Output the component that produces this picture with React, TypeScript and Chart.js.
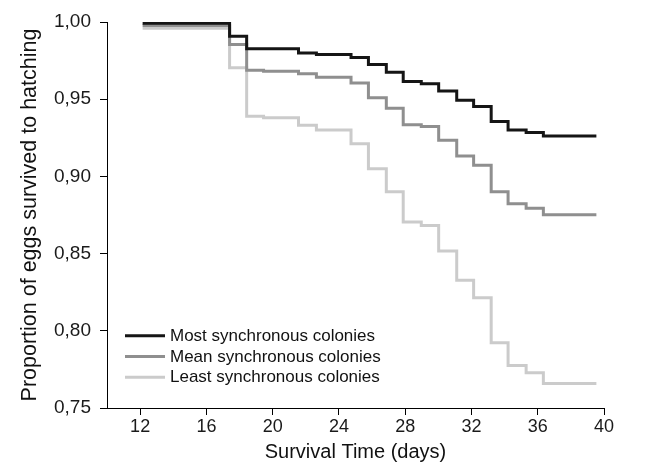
import React, { useEffect, useRef } from 'react';
import { Chart, registerables } from 'chart.js';

Chart.register(...registerables);

// Survival time (days) at which each step occurs
const days = [12.15, 17.4, 18.43, 19.45, 21.56, 22.64, 24.73, 25.78, 26.86, 27.88, 28.97, 30.02, 31.11, 32.13, 33.19, 34.21, 35.3, 36.34, 39.54];
const mostSync = [0.9992, 0.9908, 0.9826, 0.9826, 0.980, 0.979, 0.977, 0.9725, 0.9675, 0.9615, 0.960, 0.9553, 0.9494, 0.9453, 0.9356, 0.930, 0.9284, 0.9262, 0.9262];
const meanSync = [0.9977, 0.9854, 0.9688, 0.9681, 0.9665, 0.9642, 0.9605, 0.9509, 0.9441, 0.9334, 0.9323, 0.9234, 0.9132, 0.9073, 0.8901, 0.8823, 0.8794, 0.8751, 0.8751];
const leastSync = [0.996, 0.9703, 0.939, 0.938, 0.9332, 0.930, 0.9212, 0.9049, 0.890, 0.8705, 0.8682, 0.8517, 0.8328, 0.8214, 0.7922, 0.7775, 0.7728, 0.7659, 0.7659];
const seriesLabels = ['Most synchronous colonies', 'Mean synchronous colonies', 'Least synchronous colonies'];
const seriesColors = ['#151515', '#8f8f8f', '#cbcbcb'];
const xTicks = [12, 16, 20, 24, 28, 32, 36, 40];
const yTicks = [0.75, 0.8, 0.85, 0.9, 0.95, 1.0];

const FONT = '"Liberation Sans", Arial, Helvetica, sans-serif';

const toPoints = (vals: number[]) => vals.map((v, i) => ({ x: days[i], y: v }));

const legendPlugin = {
  id: 'insideLegend',
  afterDatasetsDraw(chart: any) {
    const { ctx, chartArea } = chart;
    const x0 = chartArea.left + 18;
    const x1 = x0 + 40;
    const yStart = chartArea.bottom - 72.3;
    chart.data.datasets.forEach((ds: any, i: number) => {
      const y = yStart + i * 20.8;
      ctx.save();
      ctx.strokeStyle = ds.borderColor;
      ctx.lineWidth = 3;
      ctx.beginPath();
      ctx.moveTo(x0, y);
      ctx.lineTo(x1, y);
      ctx.stroke();
      ctx.fillStyle = '#111';
      ctx.font = `17px ${FONT}`;
      ctx.textBaseline = 'middle';
      ctx.textAlign = 'left';
      ctx.fillText(ds.label, x1 + 5, y + 0.5);
      ctx.restore();
    });
  },
};

export default function App() {
  const canvasRef = useRef<HTMLCanvasElement | null>(null);

  useEffect(() => {
    if (!canvasRef.current) return;
    const series = [mostSync, meanSync, leastSync];
    const chart = new Chart(canvasRef.current, {
      type: 'line',
      data: {
        datasets: series.map((vals, i) => ({
          label: seriesLabels[i],
          data: toPoints(vals),
          borderColor: seriesColors[i],
          backgroundColor: seriesColors[i],
          borderWidth: 3,
          pointRadius: 0,
          stepped: 'before' as const,
          fill: false,
        })),
      },
      options: {
        animation: false,
        responsive: true,
        maintainAspectRatio: false,
        layout: { padding: { left: 0, top: 22, right: 46, bottom: 0 } },
        plugins: {
          legend: { display: false },
          tooltip: { enabled: false },
        },
        scales: {
          x: {
            type: 'linear',
            min: 10,
            max: 40,
            afterBuildTicks: (scale: any) => {
              scale.ticks = xTicks.map((v) => ({ value: v }));
            },
            afterFit: (scale: any) => {
              scale.height = 66;
            },
            grid: { display: true, drawOnChartArea: false, drawTicks: true, tickLength: 7, color: '#000', lineWidth: 1 },
            border: { display: true, color: '#000', width: 1 },
            ticks: {
              color: '#1a1a1a',
              font: { family: FONT, size: 18 },
              padding: 1,
              maxRotation: 0,
              autoSkip: false,
            },
            title: {
              display: true,
              text: 'Survival Time (days)',
              color: '#111',
              font: { family: FONT, size: 20 },
              padding: { top: 0, bottom: 10 },
            },
          },
          y: {
            type: 'linear',
            min: 0.75,
            max: 1.0,
            afterBuildTicks: (scale: any) => {
              scale.ticks = yTicks.map((v) => ({ value: v }));
            },
            afterFit: (scale: any) => {
              scale.width = 107;
            },
            grid: { display: true, drawOnChartArea: false, drawTicks: true, tickLength: 7, color: '#000', lineWidth: 1 },
            border: { display: true, color: '#000', width: 1 },
            ticks: {
              color: '#1a1a1a',
              font: { family: FONT, size: 19 },
              padding: 9,
              autoSkip: false,
              callback: (v: any) => Number(v).toFixed(2).replace('.', ','),
            },
            title: {
              display: true,
              text: 'Proportion of eggs survived to hatching',
              color: '#111',
              font: { family: FONT, size: 21.5 },
              padding: { top: 17, bottom: 0 },
            },
          },
        },
      },
      plugins: [legendPlugin],
    });
    return () => chart.destroy();
  }, []);

  return (
    <div style={{ position: 'absolute', left: 0, top: 0, width: 650, height: 474, background: '#fff' }}>
      <canvas ref={canvasRef} />
    </div>
  );
}
